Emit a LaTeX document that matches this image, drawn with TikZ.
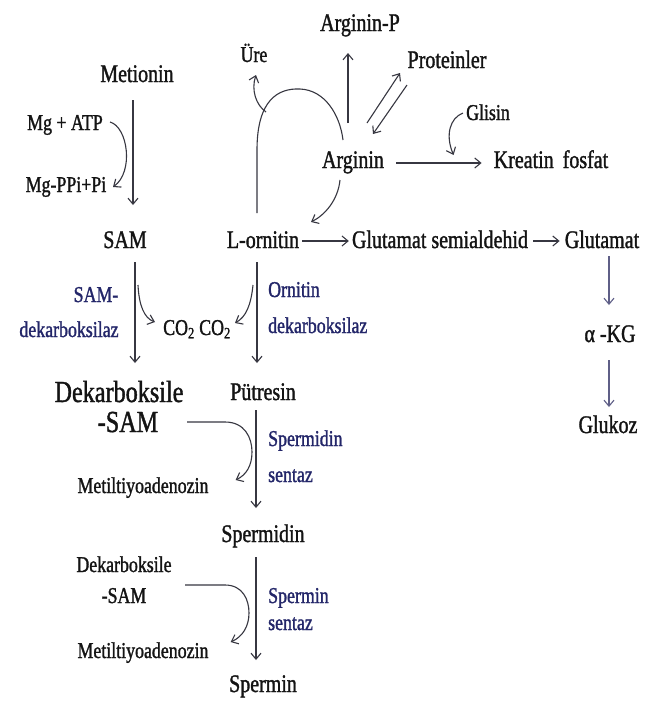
\documentclass[tikz,border=0pt]{standalone}
\usepackage{fontspec}
\setmainfont{Liberation Serif}[FakeStretch=0.79,FakeBold=1.3]
\usetikzlibrary{arrows.meta,calc}
\definecolor{lbl}{RGB}{35,38,105}
\definecolor{ink}{RGB}{20,20,20}
\definecolor{arrg}{RGB}{55,55,65}
\definecolor{slate}{RGB}{95,95,135}
\begin{document}
\begin{tikzpicture}[x=1pt,y=-1pt,
  txt/.style={inner sep=0pt,anchor=base,text=ink},
  big/.style={txt,font=\fontsize{25.3}{28}\selectfont},
  huge/.style={txt,font=\fontsize{30.6}{33}\selectfont},
  sml/.style={txt,font=\fontsize{22.6}{25}\selectfont},
  enz/.style={sml,text=lbl,anchor=base west},
  arr/.style={draw=arrg,line width=1.1pt,-{Straight Barb[length=6pt,width=10pt]}},
  sarr/.style={arr,draw=slate},
  ln/.style={draw=arrg,line width=1.1pt}]
\useasboundingbox[fill=white] (0,0) rectangle (655,705);

% nodes
\node[big] (argp) at (360,31) {Arginin-P};
\node[sml] (ure) at (254,62) {Üre};
\node[big] (prot) at (447,68) {Proteinler};
\node[big] (met) at (137,82) {Metionin};
\node[sml] (glisin) at (488,120) {Glisin};
\node[sml] (mgatp) at (65,130) {Mg + ATP};
\node[big] (arg) at (353,168) {Arginin};
\node[big] (kreatin) at (551,168) {Kreatin\hspace{4pt} fosfat};
\node[sml] (mgppi) at (66,192) {Mg-PPi+Pi};
\node[big] (sam) at (125,248) {SAM};
\node[big] (lorn) at (263,248) {L-ornitin};
\node[big] (gsa) at (440,248) {Glutamat semialdehid};
\node[big] (glu) at (602,248) {Glutamat};
\node[sml,text=lbl] (samd1) at (96,302) {SAM-};
\node[sml,text=lbl] (samd2) at (69,337) {dekarboksilaz};
\node[sml] (co2) at (197,335) {CO\textsubscript{2} CO\textsubscript{2}};
\node[enz] (ornd1) at (268,297) {Ornitin};
\node[enz] (ornd2) at (268,333) {dekarboksilaz};
\node[big] (akg) at (610,342) {α -KG};
\node[huge] (dek1a) at (119,402) {Dekarboksile};
\node[huge] (dek1b) at (128,432) {-SAM};
\node[big] (put) at (263,400) {Pütresin};
\node[big] (glukoz) at (608,433) {Glukoz};
\node[enz] (spdz1) at (268,446) {Spermidin};
\node[enz] (spdz2) at (268,482) {sentaz};
\node[sml] (mta1) at (143,493) {Metiltiyoadenozin};
\node[big] (spd) at (263,542) {Spermidin};
\node[sml] (dek2a) at (124,572) {Dekarboksile};
\node[sml] (dek2b) at (124,603) {-SAM};
\node[enz] (spmz1) at (268,603) {Spermin};
\node[enz] (spmz2) at (268,630) {sentaz};
\node[sml] (mta2) at (143,658) {Metiltiyoadenozin};
\node[big] (spm) at (263,692) {Spermin};

% left column
\draw[arr] ($(met.base)+(-4,18)$) -- ($(sam.base)+(8,-43)$);
\draw[arr] ($(mgatp.base)+(45,-8)$) .. controls (128,127) and (134,172) .. ($(mgppi.base)+(47,-5)$);
\draw[arr] ($(sam.base)+(10,14)$) -- ($(dek1a.base)+(16,-39)$);
\draw[arr] ($(sam.base)+(13,37)$) .. controls (139,305) and (144,318) .. ($(co2.base)+(-42,-13)$);

% ornithine column
\draw[arr] ($(lorn.base)+(-6,14)$) -- ($(put.base)+(-6,-37)$);
\draw[arr] ($(lorn.base)+(-10,37)$) .. controls (251,305) and (246,317) .. ($(co2.base)+(38,-12)$);
\draw[arr] ($(put.base)+(-7,10)$) -- ($(spd.base)+(-7,-34)$);
\draw[arr] ($(spd.base)+(-7,15)$) -- ($(spm.base)+(-7,-32)$);

% decarboxylated SAM side reactions
\draw[arr] ($(dek1b.base)+(59,-10)$) -- (225,422) .. controls (245,422) and (252,438) .. (252,452)
  .. controls (252,466) and (246,475) .. ($(mta1.base east)+(27,-13)$);
\draw[arr] ($(dek2b.base)+(61,-18)$) -- (225,585) .. controls (243,585) and (249,600) .. (249,613)
  .. controls (249,627) and (242,637) .. ($(mta2.base east)+(22,-16)$);

% horizontal chain
\draw[arr] ($(lorn.base east)+(3,-7)$) -- ($(gsa.base west)+(-3,-7)$);
\draw[arr] ($(gsa.base east)+(5,-7)$) -- ($(glu.base west)+(-5,-7)$);
\draw[sarr] ($(glu.base)+(7,8)$) -- ($(akg.base)+(-1,-37)$);
\draw[sarr] ($(akg.base)+(-1,18)$) -- ($(glukoz.base)+(1,-26)$);

% arginine
\draw[arr] ($(arg.base east)+(12,-5)$) -- ($(kreatin.base west)+(-12,-5)$);
\draw[arr] ($(glisin.base west)+(-3,-7)$) .. controls (450,118) and (445,135) .. ($(kreatin.base west)+(-40,-13)$);
\draw[arr] ($(arg.base)+(-5,-45)$) -- ($(argp.base)+(-12,22)$);
\draw[arr] ($(arg.base)+(14,-45)$) -- ($(prot.base)+(-47,5)$);
\draw[arr] ($(prot.base)+(-40,17)$) -- ($(arg.base)+(20,-34)$);

% urea cycle arch
\draw[ln] ($(lorn.base)+(-6,-35)$) -- (257,150) .. controls (257,100) and (278,88) .. (300,89)
  .. controls (325,90) and (340,115) .. ($(arg.base)+(-10,-28)$);
\coordinate (ureb) at (266,112);
\draw[arr] (ureb) .. controls (256,105) and (251,90) .. ($(ure.base)+(2,13)$);
\draw[arr] ($(arg.base)+(-13,12)$) .. controls (338,200) and (325,215) .. ($(lorn.base)+(48,-26)$);
\end{tikzpicture}
\end{document}
